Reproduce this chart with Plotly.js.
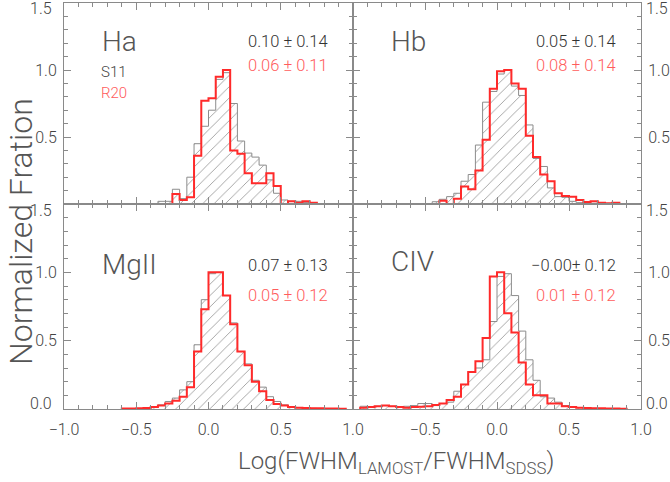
<!DOCTYPE html>
<html><head><meta charset="utf-8">
<script src="https://cdn.plot.ly/plotly-3.0.1.min.js"></script>
<style>html,body{margin:0;padding:0;background:#fff}#plot{width:670px;height:482px}</style>
</head><body><div id="plot"></div>
<script>
// ---- data (bin width 0.05, left edge of first bin given per series) ----
const binWidth = 0.05;

const haS11Start = -0.35;
const haS11 = [0.02,0.02,0.11,0.04,0.20,0.45,0.58,0.70,0.93,0.98,0.75,0.47,0.38,0.35,0.29,0.18,0.08,0.03,0.02,0.02,0.01];
const haR20Start = -0.25;
const haR20 = [0.075,0.03,0.05,0.36,0.77,0.79,0.95,1.00,0.40,0.375,0.23,0.155,0.155,0.23,0.135,0.0,0.02,0.01,0.02,0.01];

const hbS11Start = -0.45;
const hbS11 = [0.017,0.035,0.055,0.08,0.17,0.22,0.44,0.76,0.84,0.97,1.00,0.88,0.81,0.59,0.34,0.28,0.12,0.055,0.05,0.02,0.01,0.01,0.005];
const hbR20Start = -0.40;
const hbR20 = [0.025,0.0,0.04,0.13,0.11,0.25,0.48,0.86,0.99,1.00,0.90,0.86,0.51,0.35,0.22,0.17,0.08,0.06,0.055,0.03,0.015,0.02,0.01,0.005,0.01];

const mgS11Start = -0.45;
const mgS11 = [0.008,0.017,0.03,0.055,0.08,0.14,0.20,0.47,0.80,0.99,1.00,0.83,0.63,0.42,0.33,0.21,0.16,0.09,0.055,0.03,0.015,0.01,0.008,0.005,0.004,0.003,0.002];
const mgR20Start = -0.60;
const mgR20 = [0.003,0.004,0.005,0.007,0.015,0.025,0.04,0.06,0.09,0.16,0.42,0.73,1.00,1.00,0.83,0.62,0.42,0.32,0.20,0.13,0.066,0.037,0.025,0.015,0.01,0.008,0.006,0.005,0.004,0.003,0.002];

const civS11Start = -0.95;
const civS11 = [0.02,0.015,0.02,0.025,0.02,0.015,0.02,0.025,0.04,0.04,0.025,0.04,0.05,0.13,0.18,0.27,0.30,0.36,0.64,0.97,0.99,0.83,0.57,0.36,0.21,0.09,0.08,0.05,0.025,0.015,0.01,0.008,0.005,0.004,0.003,0.002,0.002];
const civR20Start = -0.95;
const civR20 = [0.01,0.015,0.02,0.025,0.02,0.015,0.01,0.015,0.017,0.02,0.03,0.04,0.066,0.09,0.18,0.27,0.35,0.52,0.97,1.00,0.70,0.56,0.34,0.18,0.10,0.10,0.04,0.04,0.02,0.015,0.01,0.008,0.006,0.005,0.004,0.003,0.002];

const panelNames = ['Ha','Hb','MgII','CIV'];
const statsS11 = ['0.10 \u00b1 0.14','0.05 \u00b1 0.14','0.07 \u00b1 0.13','\u22120.00\u00b1 0.12'];
const statsR20 = ['0.06 \u00b1 0.11','0.08 \u00b1 0.14','0.05 \u00b1 0.12','0.01 \u00b1 0.12'];
const xTickVals = [-1.0,-0.5,0.0,0.5,1.0];
const yTickVals = [0.0,0.5,1.0,1.5];

// ---- helpers ----
function stepXY(start, h){
  const xs=[start], ys=[0];
  for(let i=0;i<h.length;i++){ xs.push(start+i*binWidth); ys.push(h[i]); }
  xs.push(start+h.length*binWidth); ys.push(0);
  return {xs, ys};
}
const GRAY='#8c8c8c', RED='#ff2a2a', TXT='#444', RTXT='#ff5c5c', AX='#8a8a8a';
const FONT='Roboto';

const series = [
  [haS11Start,haS11,haR20Start,haR20],
  [hbS11Start,hbS11,hbR20Start,hbR20],
  [mgS11Start,mgS11,mgR20Start,mgR20],
  [civS11Start,civS11,civR20Start,civR20]
];
const traces=[];
series.forEach((s,i)=>{
  const ax = i===0?'':String(i+1);
  const g = stepXY(s[0],s[1]);
  traces.push({x:g.xs,y:g.ys,type:'scatter',mode:'lines',line:{shape:'hv',color:GRAY,width:1},
    fill:'tozeroy',fillcolor:'rgba(0,0,0,0)',
    fillpattern:{shape:'/',fgcolor:'#777',bgcolor:'rgba(0,0,0,0)',size:8,solidity:0.08},
    xaxis:'x'+ax,yaxis:'y'+ax,hoverinfo:'skip',showlegend:false});
  const r = stepXY(s[2],s[3]);
  traces.push({x:r.xs,y:r.ys,type:'scatter',mode:'lines',line:{shape:'hv',color:RED,width:2},
    xaxis:'x'+ax,yaxis:'y'+ax,hoverinfo:'skip',showlegend:false});
});

// panel geometry (paper fractions)
const W=670,H=482;
const xL=[64/W,353/W], xR=[353/W,641/W];
const yT=[(H-204)/H,(H-3)/H], yB=[(H-409)/H,(H-204)/H];

function xaxis(dom, showLabels, isLeft, anchor){
  return {domain:dom, range:[-1,1], anchor:anchor, showgrid:false, zeroline:false,
    showline:true, linecolor:AX, linewidth:1, mirror:'allticks',
    ticks:'inside', ticklen:7, tickcolor:AX, tickwidth:1,
    tickvals:xTickVals,
    ticktext: showLabels ? xTickVals.map((v,k)=>(!isLeft && k===0)?'':(v<0?'\u2212':'')+Math.abs(v).toFixed(1)) : xTickVals.map(()=> ''),
    minor:{dtick:0.1,tick0:0,ticks:'inside',ticklen:4,tickcolor:AX,showgrid:false},
    tickfont:{family:FONT,size:16,color:TXT,weight:300}, ticklabelstandoff:6};
}
function yaxis(dom, side, anchor){
  // end labels (0.0 / 1.5) are drawn as annotations, nudged inside as in the original
  return {domain:dom, range:[0,1.5], anchor:anchor, side:side, showgrid:false, zeroline:false,
    showline:true, linecolor:AX, linewidth:1, mirror:'allticks',
    ticks:'inside', ticklen:7, tickcolor:AX, tickwidth:1,
    tickvals:yTickVals,
    ticktext: yTickVals.map(v=> (v===0 || v===1.5) ? '' : v.toFixed(1)),
    minor:{dtick:0.1,tick0:0,ticks:'inside',ticklen:4,tickcolor:AX,showgrid:false},
    tickfont:{family:FONT,size:16,color:TXT,weight:300}, ticklabelstandoff:3};
}

const layout = {
  width:W,height:H,margin:{l:0,r:0,t:0,b:0},paper_bgcolor:'#fff',plot_bgcolor:'rgba(0,0,0,0)',
  showlegend:false,
  xaxis: xaxis(xL,false,true,'y'),   yaxis: yaxis(yT,'left','x'),
  xaxis2:xaxis(xR,false,false,'y2'), yaxis2:yaxis(yT,'right','x2'),
  xaxis3:xaxis(xL,true,true,'y3'),   yaxis3:yaxis(yB,'left','x3'),
  xaxis4:xaxis(xR,true,false,'y4'),  yaxis4:yaxis(yB,'right','x4'),
  annotations:[]
};
const A = layout.annotations;
const refs=[['x','y'],['x2','y2'],['x3','y3'],['x4','y4']];
const nameY=[0.806,0.806,0.706,0.72], s1Y=[0.806,0.806,0.70,0.70], s2Y=[0.687,0.687,0.554,0.554];
refs.forEach((r,i)=>{
  A.push({xref:r[0]+' domain',yref:r[1]+' domain',x:0.125,y:nameY[i],xanchor:'left',yanchor:'middle',showarrow:false,
    text:panelNames[i],font:{family:FONT,size:28,color:'#555',weight:300}});
  A.push({xref:r[0]+' domain',yref:r[1]+' domain',x:0.92,y:s1Y[i],xanchor:'right',yanchor:'middle',showarrow:false,
    text:statsS11[i],font:{family:FONT,size:16.5,color:'#333',weight:300}});
  A.push({xref:r[0]+' domain',yref:r[1]+' domain',x:0.92,y:s2Y[i],xanchor:'right',yanchor:'middle',showarrow:false,
    text:statsR20[i],font:{family:FONT,size:16.5,color:RTXT,weight:300}});
});
A.push({xref:'x domain',yref:'y domain',x:0.121,y:0.657,xanchor:'left',yanchor:'middle',showarrow:false,
  text:'S11',font:{family:FONT,size:15,color:'#444',weight:300}});
A.push({xref:'x domain',yref:'y domain',x:0.121,y:0.552,xanchor:'left',yanchor:'middle',showarrow:false,
  text:'R20',font:{family:FONT,size:15,color:RTXT,weight:300}});
// y end labels: [text, y pixel of label centre]
const endLabels = [['1.5',8],['1.5',210],['0.0',403]];
endLabels.forEach(e=>{
  A.push({xref:'paper',yref:'paper',x:64/W,y:(H-e[1])/H,xanchor:'right',yanchor:'middle',xshift:-10,showarrow:false,
    text:e[0],font:{family:FONT,size:16,color:TXT,weight:300}});
  A.push({xref:'paper',yref:'paper',x:641/W,y:(H-e[1])/H,xanchor:'left',yanchor:'middle',xshift:3,showarrow:false,
    text:e[0],font:{family:FONT,size:16,color:TXT,weight:300}});
});
// axis titles
A.push({xref:'paper',yref:'paper',x:396/W,y:(H-462)/H,xanchor:'center',yanchor:'middle',showarrow:false,
  text:'Log(FWHM<sub>LAMOST</sub>/FWHM<sub>SDSS</sub>)',font:{family:FONT,size:24,color:'#555',weight:300}});
A.push({xref:'paper',yref:'paper',x:21/W,y:(H-232)/H,xanchor:'center',yanchor:'middle',showarrow:false,textangle:-90,
  text:'Normalized Fration',font:{family:FONT,size:32,color:'#555',weight:300}});

Plotly.newPlot('plot',traces,layout,{staticPlot:true});
</script></body></html>
